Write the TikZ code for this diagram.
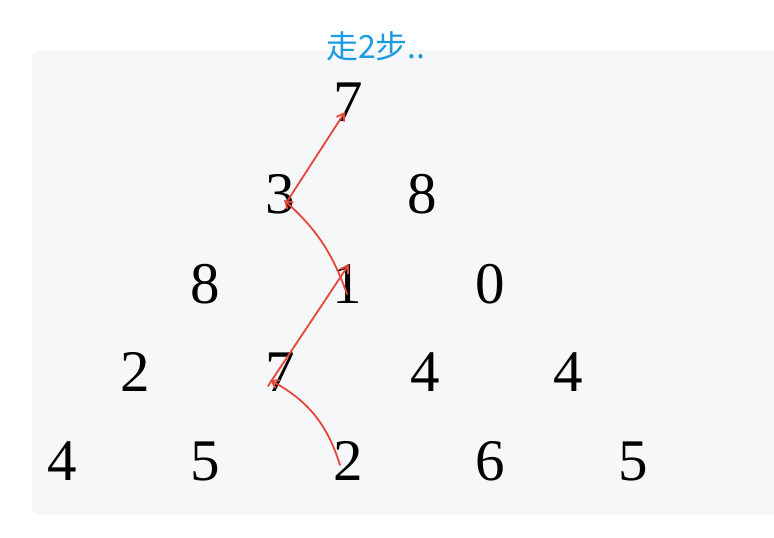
\documentclass[tikz,border=0pt]{standalone}
\usepackage{fontspec}
\usetikzlibrary{arrows.meta}
\newfontfamily\cjk{Noto Sans CJK SC}
\newfontfamily\digitfont{Liberation Serif}
\definecolor{panelgray}{HTML}{F6F7F9}
\definecolor{pathred}{HTML}{E8453C}
\definecolor{noteblue}{HTML}{1B9BE0}
\begin{document}
\begin{tikzpicture}[
			x=1pt, y=-1pt,
			num/.style={inner sep=0pt, font=\digitfont\fontsize{59}{59}\selectfont},
			route/.style={pathred, line width=1.8pt, line cap=round, -{Straight Barb[length=7pt,width=9pt]}}
			]
			\useasboundingbox (0,0) rectangle (774,538);
			\fill[panelgray, rounded corners=8pt] (32,50) rectangle (800,515);
			% the triangle
			\node[num] (a00) at (348,102) {7};
			\node[num] (a10) at (280,194) {3};
			\node[num] (a11) at (422,194) {8};
			\node[num] (a20) at (205,284) {8};
			\node[num] (a21) at (347,284) {1};
			\node[num] (a22) at (490,284) {0};
			\node[num] (a30) at (135,372) {2};
			\node[num] (a31) at (280,372) {7};
			\node[num] (a32) at (425,372) {4};
			\node[num] (a33) at (568,372) {4};
			\node[num] (a40) at (62,461) {4};
			\node[num] (a41) at (205,461) {5};
			\node[num] (a42) at (348,461) {2};
			\node[num] (a43) at (490,461) {6};
			\node[num] (a44) at (633,461) {5};
			% the path drawn by hand
			\draw[route] ([xshift=-8pt,yshift=-4pt]a42.center) to[bend right=22] ([xshift=-10pt,yshift=-8pt]a31.center);
			\draw[route] ([xshift=-12pt,yshift=-14pt]a31.center) -- ([xshift=2pt]a21.north);
			\draw[route] ([yshift=-10pt]a21.center) to[bend right=14] ([xshift=4pt,yshift=-6pt]a10.center);
			\draw[route] ([xshift=8pt,yshift=-6pt]a10.center) -- ([xshift=-3pt,yshift=-10pt]a00.center);
			\node[noteblue, inner sep=1pt, font=\cjk\fontsize{32}{32}\selectfont] (note) at (376,46) {走2步..};
		\end{tikzpicture}
\end{document}
